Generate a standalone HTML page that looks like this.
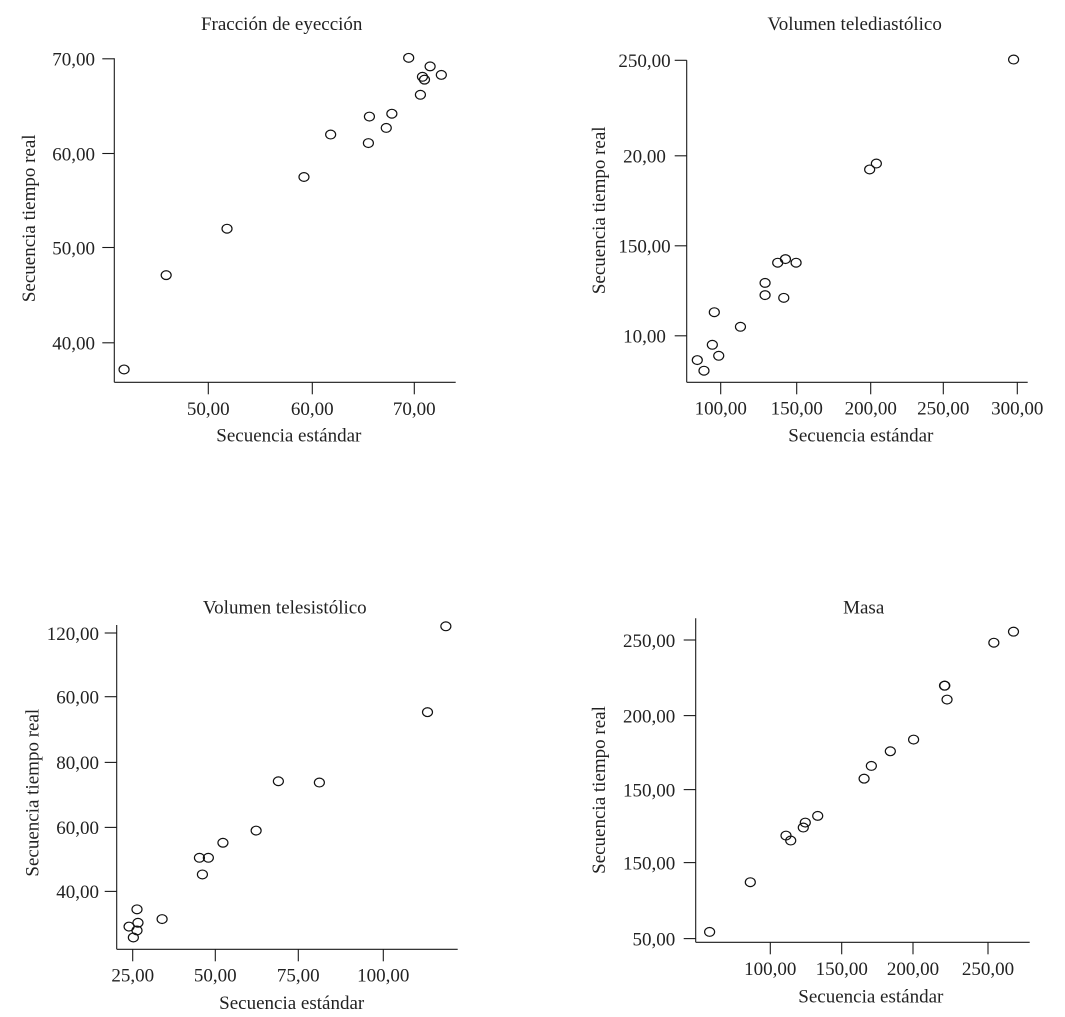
<!DOCTYPE html>
<html lang="es">
<head>
<meta charset="utf-8">
<title>Secuencia tiempo real frente a secuencia estándar</title>
<style>
html,body{margin:0;padding:0;background:#fff;}
svg{display:block;}
text{font-family:"Liberation Serif",serif;font-size:19px;fill:#222;}
</style>
</head>
<body>
<svg id="chart" xmlns="http://www.w3.org/2000/svg" width="1065" height="1017" viewBox="0 0 1065 1017">
<rect width="1065" height="1017" fill="#fff"/>
<g id="p1">
<text x="281.7" y="30" text-anchor="middle">Fracción de eyección</text>
<text x="288.8" y="441.5" text-anchor="middle">Secuencia estándar</text>
<text transform="translate(35 218.3) rotate(-90)" text-anchor="middle">Secuencia tiempo real</text>
</g>
<g id="p2">
<text x="854.7" y="30" text-anchor="middle">Volumen telediastólico</text>
<text x="860.8" y="441.5" text-anchor="middle">Secuencia estándar</text>
<text transform="translate(605 210.3) rotate(-90)" text-anchor="middle">Secuencia tiempo real</text>
</g>
<g id="p3">
<text x="284.8" y="613.3" text-anchor="middle">Volumen telesistólico</text>
<text x="291.7" y="1009" text-anchor="middle">Secuencia estándar</text>
<text transform="translate(38.3 792.7) rotate(-90)" text-anchor="middle">Secuencia tiempo real</text>
</g>
<g id="p4">
<text x="863.7" y="613.3" text-anchor="middle">Masa</text>
<text x="870.8" y="1002.7" text-anchor="middle">Secuencia estándar</text>
<text transform="translate(605 790) rotate(-90)" text-anchor="middle">Secuencia tiempo real</text>
</g>
</svg>
<script>
// ---- Data: Fracción de eyección ----
const p1XTicks = [50, 60, 70];
const p1XTickLabels = ["50,00", "60,00", "70,00"];
const p1YTicks = [40, 50, 60, 70];
const p1YTickLabels = ["40,00", "50,00", "60,00", "70,00"];
const p1Standard = [41.9, 45.95, 51.8, 59.2, 61.8, 65.5, 65.6, 67.25, 67.8, 70.6, 69.45, 70.8, 71.0, 71.55, 72.65];
const p1RealTime = [37.2, 47.1, 52.0, 57.5, 62.0, 61.1, 63.9, 62.7, 64.2, 66.2, 70.1, 68.1, 67.8, 69.2, 68.3];

// ---- Data: Volumen telediastólico ----
const p2XTicks = [100, 150, 200, 250, 300];
const p2XTickLabels = ["100,00", "150,00", "200,00", "250,00", "300,00"];
const p2YTicks = [100, 150, 200, 250];
const p2YTickLabels = ["10,00", "150,00", "20,00", "250,00"];
const p2Standard = [84.6, 89.0, 94.5, 98.7, 95.8, 113.0, 129.2, 129.2, 141.5, 137.5, 142.6, 149.6, 199.3, 203.9, 297.5];
const p2RealTime = [86.5, 80.6, 95.0, 88.9, 113.1, 105.0, 129.4, 122.6, 121.1, 140.6, 142.6, 140.6, 192.4, 195.7, 250.4];

// ---- Data: Volumen telesistólico ----
const p3XTicks = [25, 50, 75, 100];
const p3XTickLabels = ["25,00", "50,00", "75,00", "100,00"];
const p3YTicks = [40, 60, 80, 100, 120];
const p3YTickLabels = ["40,00", "60,00", "80,00", "60,00", "120,00"];
const p3Standard = [23.9, 25.2, 26.3, 26.6, 26.3, 33.9, 45.2, 47.9, 46.1, 52.3, 62.3, 69.0, 81.2, 113.0, 118.4];
const p3RealTime = [29.0, 25.6, 27.8, 30.2, 34.4, 31.35, 50.5, 50.5, 45.3, 55.2, 59.0, 74.2, 73.8, 95.3, 122.1];

// ---- Data: Masa ----
const p4XTicks = [100, 150, 200, 250];
const p4XTickLabels = ["100,00", "150,00", "200,00", "250,00"];
const p4YTicks = [50, 100, 150, 200, 250];
const p4YTickLabels = ["50,00", "150,00", "150,00", "200,00", "250,00"];
const p4Standard = [57.5, 86.0, 111.0, 114.3, 123.1, 124.5, 133.2, 165.7, 170.8, 184.1, 200.4, 221.0, 221.2, 222.7, 253.9, 267.0];
const p4RealTime = [54.4, 87.1, 118.5, 115.1, 124.0, 127.4, 132.0, 157.4, 166.0, 175.9, 183.8, 219.8, 219.8, 210.6, 248.2, 255.5];

const SVG_NS = "http://www.w3.org/2000/svg";

// Piecewise axis function: maps data values through the (slightly uneven) printed tick spacing.
function axisScale(ticks, pixels) {
  return function (v) {
    let i = 0;
    while (i < ticks.length - 2 && v > ticks[i + 1]) i++;
    const t = (v - ticks[i]) / (ticks[i + 1] - ticks[i]);
    return pixels[i] + t * (pixels[i + 1] - pixels[i]);
  };
}

function makeLine(parent, x1, y1, x2, y2) {
  const el = document.createElementNS(SVG_NS, "line");
  el.setAttribute("x1", x1);
  el.setAttribute("y1", y1);
  el.setAttribute("x2", x2);
  el.setAttribute("y2", y2);
  el.setAttribute("stroke", "#1a1a1a");
  el.setAttribute("stroke-width", "1.1");
  parent.appendChild(el);
  return el;
}

function makeText(parent, x, y, anchor, str) {
  const el = document.createElementNS(SVG_NS, "text");
  el.setAttribute("x", x);
  el.setAttribute("y", y);
  el.setAttribute("text-anchor", anchor);
  el.textContent = str;
  parent.appendChild(el);
  return el;
}

function drawPanel(cfg) {
  const g = document.getElementById(cfg.id);
  const sx = axisScale(cfg.xTicks, cfg.xPx);
  const sy = axisScale(cfg.yTicks, cfg.yPx);

  const yAxis = makeLine(g, cfg.left, cfg.top, cfg.left, cfg.bottom);
  
  
  const xAxis = makeLine(g, cfg.left, cfg.bottom, cfg.right, cfg.bottom);
  
  

  cfg.xTicks.forEach(function (v, i) {
    const x = sx(v);
    const tick = makeLine(g, x, cfg.bottom, x, cfg.bottom + 12);
    
    
    const label = makeText(g, x, cfg.xLabelY, "middle", cfg.xLabels[i]);
    
    
  });

  cfg.yTicks.forEach(function (v, i) {
    const y = sy(v);
    const tick = makeLine(g, cfg.left - 12, y, cfg.left, y);
    
    
    const label = makeText(g, cfg.yLabelX, y + 6.8, cfg.yAnchor, cfg.yLabels[i]);
    
    
  });

  cfg.xs.forEach(function (v, i) {
    const pt = document.createElementNS(SVG_NS, "ellipse");
    
    
    pt.setAttribute("cx", sx(v));
    pt.setAttribute("cy", sy(cfg.ys[i]));
    pt.setAttribute("rx", 5);
    pt.setAttribute("ry", 4.4);
    pt.setAttribute("fill", "none");
    pt.setAttribute("stroke", "#111");
    pt.setAttribute("stroke-width", "1.2");
    g.appendChild(pt);
  });
}

drawPanel({
  id: "p1", left: 114.3, right: 455.7, top: 58.3, bottom: 382.3,
  xLabelY: 415, yLabelX: 95, yAnchor: "end",
  xTicks: p1XTicks, xLabels: p1XTickLabels, xPx: [208.3, 312.3, 414.3],
  yTicks: p1YTicks, yLabels: p1YTickLabels, yPx: [342.8, 247.5, 153.5, 58.8],
  xs: p1Standard, ys: p1RealTime
});
drawPanel({
  id: "p2", left: 686.7, right: 1027.7, top: 60.3, bottom: 382.3,
  xLabelY: 414.5, yLabelX: 644.5, yAnchor: "middle",
  xTicks: p2XTicks, xLabels: p2XTickLabels, xPx: [720.7, 796.7, 870.7, 943.3, 1017.3],
  yTicks: p2YTicks, yLabels: p2YTickLabels, yPx: [335.8, 245.8, 155.8, 60.3],
  xs: p2Standard, ys: p2RealTime
});
drawPanel({
  id: "p3", left: 116.7, right: 457.7, top: 625, bottom: 949.3,
  xLabelY: 981.7, yLabelX: 99, yAnchor: "end",
  xTicks: p3XTicks, xLabels: p3XTickLabels, xPx: [132.7, 215.3, 298.3, 383.3],
  yTicks: p3YTicks, yLabels: p3YTickLabels, yPx: [891.4, 827.4, 762.4, 696.7, 633],
  xs: p3Standard, ys: p3RealTime
});
drawPanel({
  id: "p4", left: 695.7, right: 1029.7, top: 618.3, bottom: 942.3,
  xLabelY: 975, yLabelX: 675.3, yAnchor: "end",
  xTicks: p4XTicks, xLabels: p4XTickLabels, xPx: [770.3, 841.7, 913, 988],
  yTicks: p4YTicks, yLabels: p4YTickLabels, yPx: [938.6, 862.6, 789.6, 715.6, 640],
  xs: p4Standard, ys: p4RealTime
});
</script>
</body>
</html>
